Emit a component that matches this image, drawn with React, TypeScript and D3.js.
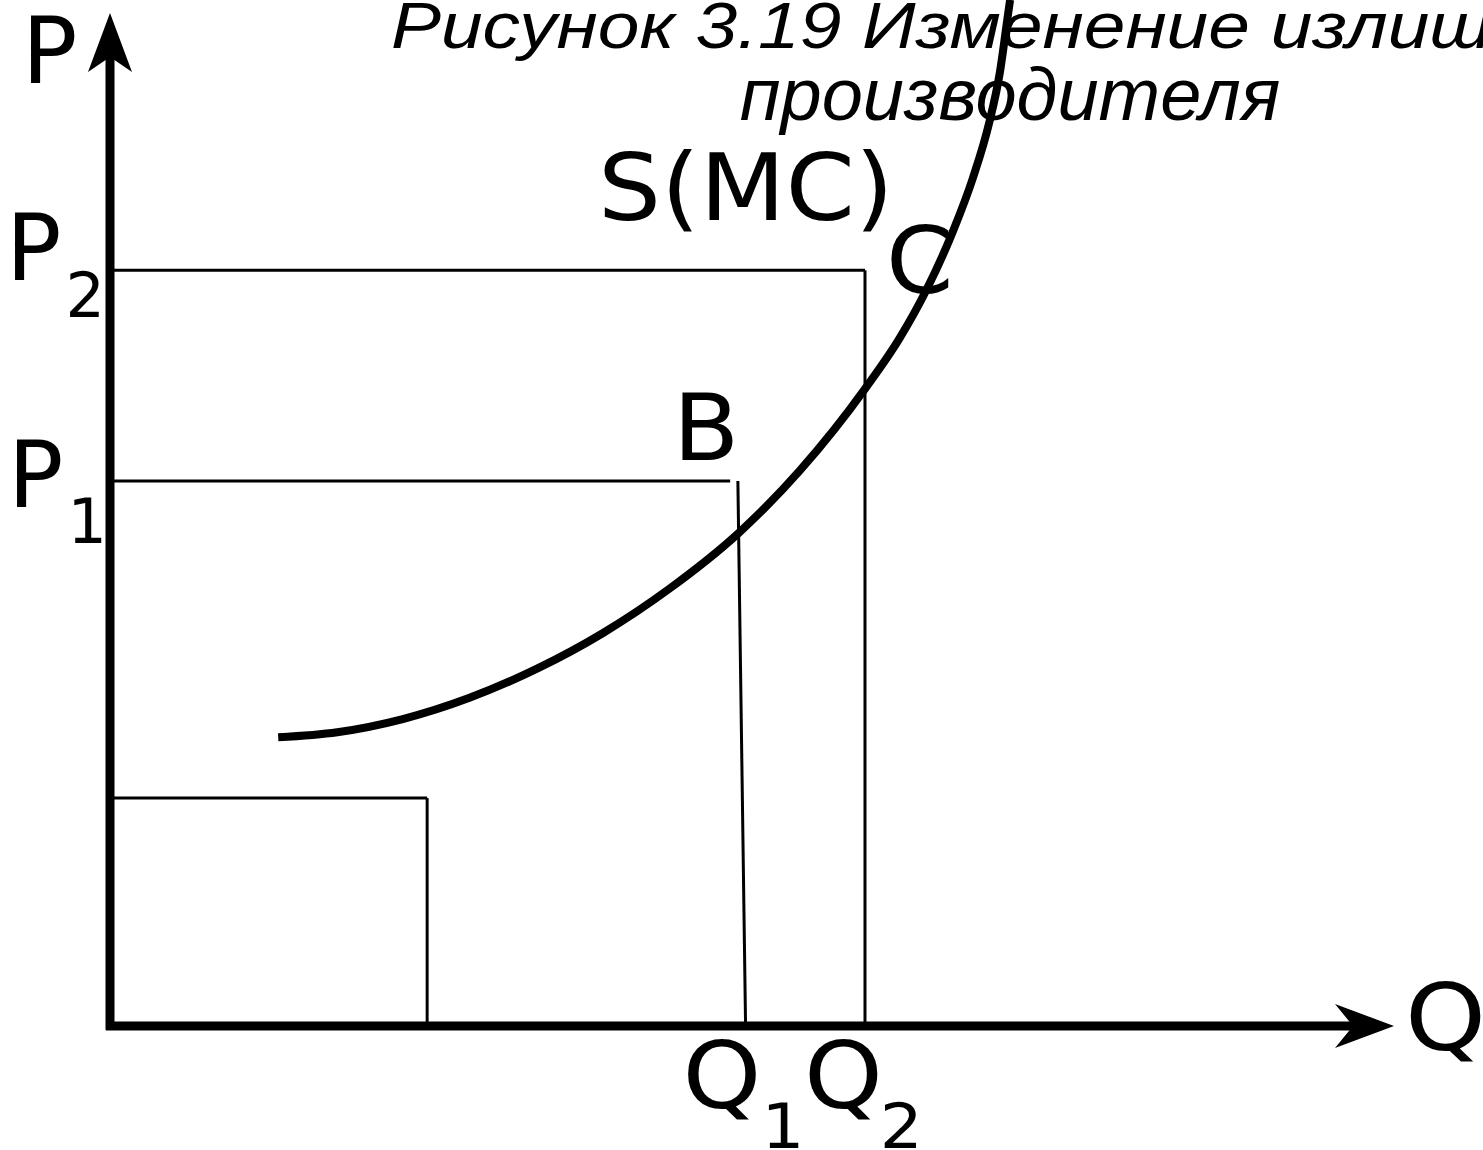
import React, { useEffect } from 'react';
import * as d3 from 'd3';

// supply curve S(MC) (Q, P in chart units 0..100)
const curveQ = [13.1, 17.7, 22.8, 28.0, 33.3, 38.4, 43.6, 48.9, 53.7, 58.8, 61.5, 63.6, 65.7, 67.2, 68.5, 69.3, 69.9, 70.1];
const curveP = [28.5, 29.0, 30.3, 32.4, 35.3, 38.8, 43.2, 48.6, 54.8, 62.9, 67.9, 72.7, 78.6, 83.7, 89.3, 94.1, 99.5, 101.3];

// price / quantity levels
const levelNames = ['P0', 'P1', 'P2'];
const levelP = [22.5, 53.8, 74.6];
const levelQTop = [24.7, 48.9, 58.8];
const levelQBottom = [24.7, 49.5, 58.8];
const levelLineEnd = [24.7, 48.3, 58.8];

const titleLines = ['Рисунок 3.19 Изменение излишка', 'производителя'];

const W = 1483;
const H = 1150;
const FONT = 'DejaVu Sans, Verdana, sans-serif';

// text stretched sideways like in the original scan
const Label = ({ x, y, sx = 1, size = 92, children }: any) => (
  <text transform={`translate(${x},${y}) scale(${sx},1)`} fontSize={size}>{children}</text>
);

const App = () => {
  useEffect(() => {
    document.body.style.margin = '0';
  }, []);

  const x = d3.scaleLinear().domain([0, 100]).range([110, 1394]);
  const y = d3.scaleLinear().domain([0, 100]).range([1026, 13]);

  const pts: [number, number][] = curveQ.map((q, i) => [q, curveP[i]]);
  const supply = d3.line<[number, number]>()
    .x(d => x(d[0]))
    .y(d => y(d[1]))
    .curve(d3.curveMonotoneX)(pts);

  // arrow heads
  const yTip = y(100), x0 = x(0), y0 = y(0);
  const yArrow = `M${x0},${yTip} L${x0 + 22},${yTip + 59} L${x0},${yTip + 44} L${x0 - 22},${yTip + 59} Z`;
  const xTip = x(100);
  const xArrow = `M${xTip},${y0} L${xTip - 59},${y0 - 22} L${xTip - 41},${y0} L${xTip - 59},${y0 + 22} Z`;

  const sx = 1.17;

  return (
    <svg width={W} height={H} style={{ display: 'block', position: 'absolute', left: 0, top: 0, background: '#fff' }}>
      <rect width={W} height={H} fill="#fff" />

      {/* title */}
      <g fontFamily="Liberation Sans, Arial, sans-serif" fontStyle="italic" fill="#000">
        <text transform={`translate(391,48) scale(${sx},1)`} fontSize={64}>{titleLines[0]}</text>
        <text x={1010} y={120} textAnchor="middle" fontSize={74}>{titleLines[1]}</text>
      </g>

      {/* level lines */}
      {levelNames.map((n, i) => (
        <g key={n} stroke="#000" strokeWidth={3} fill="none">
          <line x1={x(0)} x2={x(levelLineEnd[i])} y1={y(levelP[i])} y2={y(levelP[i])} />
          <line x1={x(levelQTop[i])} x2={x(levelQBottom[i])} y1={y(levelP[i])} y2={y(0)} />
        </g>
      ))}

      {/* axes */}
      <line x1={x0} x2={x0} y1={y0 + 4} y2={yTip + 44} stroke="#000" strokeWidth={9} />
      <line x1={x0 - 4} x2={xTip - 41} y1={y0} y2={y0} stroke="#000" strokeWidth={9} />
      <path d={yArrow} fill="#000" />
      <path d={xArrow} fill="#000" />

      {/* supply curve */}
      <path d={supply || ''} fill="none" stroke="#000" strokeWidth={8} />

      {/* labels */}
      <g fontFamily={FONT} fill="#000">
        <Label x={22} y={83}>P</Label>
        <Label x={1405} y={1050} sx={1.12}>Q</Label>
        <Label x={6} y={y(levelP[2]) + 10}>P<tspan fontSize={62} dx={4} dy={37}>2</tspan></Label>
        <Label x={8} y={y(levelP[1]) + 26}>P<tspan fontSize={62} dx={4} dy={36}>1</tspan></Label>
        <Label x={x(levelQBottom[1]) - 63} y={1108} sx={1.09}>Q<tspan fontSize={62} dx={0} dy={40}>1</tspan></Label>
        <Label x={x(levelQBottom[2]) - 61} y={1108} sx={1.09}>Q<tspan fontSize={62} dx={-3} dy={40}>2</tspan></Label>
        <Label x={673} y={460} sx={1.05}>B</Label>
        <Label x={598} y={220} sx={1.08}>S(MC)</Label>
        <Label x={886} y={293} sx={1.05}>C</Label>
      </g>
    </svg>
  );
};

export default App;
